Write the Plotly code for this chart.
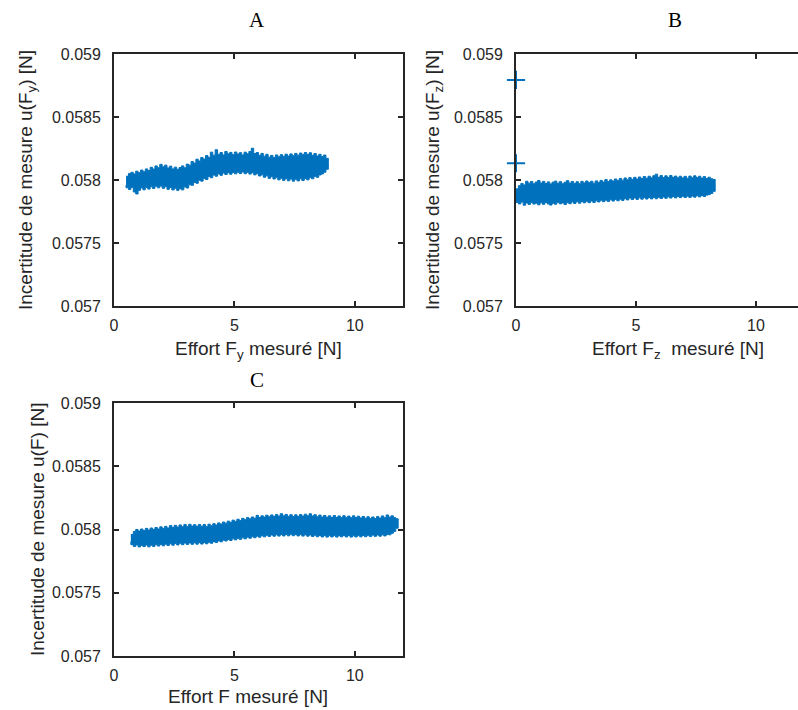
import plotly.graph_objects as go

# ---------------- data (in mN) ----------------
A_x_start, A_x_step = 0.5, 0.1
A_top_mN = [58.030, 58.052, 58.061, 58.048, 58.070, 58.058, 58.079, 58.066, 58.088, 58.075,
            58.101, 58.087, 58.112, 58.098, 58.124, 58.105, 58.118, 58.096, 58.110, 58.088,
            58.102, 58.085, 58.099, 58.112, 58.097, 58.126, 58.118, 58.146, 58.134, 58.165,
            58.151, 58.178, 58.166, 58.194, 58.180, 58.221, 58.197, 58.240, 58.204, 58.218,
            58.199, 58.226, 58.208, 58.219, 58.201, 58.222, 58.206, 58.217, 58.199, 58.221,
            58.208, 58.226, 58.252, 58.210, 58.218, 58.196, 58.211, 58.189, 58.204, 58.181,
            58.195, 58.178, 58.199, 58.184, 58.201, 58.188, 58.205, 58.190, 58.207, 58.193,
            58.211, 58.197, 58.214, 58.201, 58.218, 58.203, 58.216, 58.196, 58.210, 58.191,
            58.204, 58.186, 58.198, 58.172, 58.140]
A_bot_mN = [57.960, 57.938, 57.925, 57.941, 57.905, 57.889, 57.918, 57.937, 57.922, 57.941,
            57.928, 57.946, 57.933, 57.951, 57.938, 57.952, 57.934, 57.947, 57.926, 57.940,
            57.921, 57.935, 57.918, 57.931, 57.922, 57.945, 57.936, 57.962, 57.958, 57.981,
            57.974, 57.998, 57.991, 58.012, 58.004, 58.027, 58.018, 58.039, 58.030, 58.048,
            58.037, 58.055, 58.044, 58.058, 58.046, 58.060, 58.049, 58.062, 58.051, 58.064,
            58.050, 58.061, 58.047, 58.058, 58.041, 58.050, 58.032, 58.041, 58.022, 58.033,
            58.013, 58.026, 58.008, 58.019, 58.001, 58.014, 57.997, 58.010, 57.994, 58.008,
            57.991, 58.006, 57.993, 58.009, 57.996, 58.012, 58.001, 58.018, 58.010, 58.029,
            58.021, 58.040, 58.048, 58.062, 58.085]

B_x_start, B_x_step = 0.0, 0.1
B_top_mN = [57.930, 57.955, 57.972, 57.961, 57.990, 57.975, 57.988, 57.970, 57.984, 57.996,
            57.976, 57.989, 57.972, 57.985, 57.969, 57.983, 57.991, 57.974, 57.987, 57.970,
            57.982, 57.995, 57.976, 57.988, 57.973, 57.986, 57.971, 57.989, 57.977, 57.992,
            57.979, 57.990, 57.975, 57.993, 57.981, 57.997, 57.984, 58.003, 57.988, 58.001,
            57.992, 58.008, 57.995, 58.012, 57.999, 58.016, 58.002, 58.019, 58.005, 58.021,
            58.008, 58.024, 58.011, 58.028, 58.014, 58.030, 58.017, 58.034, 58.046, 58.022,
            58.035, 58.019, 58.033, 58.020, 58.036, 58.021, 58.031, 58.017, 58.030, 58.016,
            58.029, 58.014, 58.031, 58.018, 58.033, 58.019, 58.030, 58.015, 58.027, 58.012,
            58.022, 58.010, 58.004, 57.980]
B_bot_mN = [57.845, 57.822, 57.810, 57.825, 57.800, 57.818, 57.806, 57.821, 57.809, 57.816,
            57.803, 57.819, 57.807, 57.822, 57.810, 57.801, 57.815, 57.808, 57.823, 57.811,
            57.818, 57.806, 57.820, 57.812, 57.826, 57.814, 57.828, 57.816, 57.829, 57.819,
            57.831, 57.820, 57.833, 57.822, 57.835, 57.826, 57.839, 57.828, 57.840, 57.830,
            57.843, 57.833, 57.846, 57.835, 57.848, 57.838, 57.852, 57.842, 57.857, 57.845,
            57.858, 57.846, 57.859, 57.848, 57.860, 57.849, 57.861, 57.850, 57.862, 57.851,
            57.863, 57.853, 57.865, 57.855, 57.867, 57.857, 57.869, 57.858, 57.870, 57.860,
            57.871, 57.861, 57.872, 57.862, 57.873, 57.864, 57.875, 57.866, 57.877, 57.869,
            57.880, 57.884, 57.893, 57.910]
B_outlier_x = [0.0, 0.0]
B_outlier_mN = [58.794, 58.133]

C_x_start, C_x_step = 0.7, 0.1
C_top_mN = [57.960, 57.985, 58.000, 57.988, 58.004, 57.992, 58.009, 57.996, 58.012, 58.001,
            58.016, 58.004, 58.021, 58.009, 58.025, 58.012, 58.031, 58.017, 58.033, 58.020,
            58.036, 58.022, 58.039, 58.024, 58.041, 58.027, 58.038, 58.025, 58.040, 58.026,
            58.039, 58.024, 58.042, 58.030, 58.046, 58.036, 58.052, 58.043, 58.059, 58.050,
            58.066, 58.057, 58.074, 58.064, 58.081, 58.071, 58.088, 58.078, 58.094, 58.084,
            58.099, 58.089, 58.112, 58.095, 58.108, 58.098, 58.113, 58.101, 58.115, 58.104,
            58.118, 58.106, 58.125, 58.108, 58.119, 58.105, 58.117, 58.103, 58.116, 58.104,
            58.118, 58.106, 58.121, 58.108, 58.124, 58.107, 58.117, 58.101, 58.114, 58.099,
            58.111, 58.097, 58.108, 58.095, 58.110, 58.096, 58.107, 58.094, 58.109, 58.095,
            58.106, 58.093, 58.108, 58.094, 58.105, 58.091, 58.103, 58.089, 58.101, 58.087,
            58.099, 58.086, 58.102, 58.090, 58.107, 58.093, 58.115, 58.098, 58.108, 58.094,
            58.085, 58.058]
C_bot_mN = [57.905, 57.880, 57.866, 57.878, 57.862, 57.874, 57.865, 57.877, 57.863, 57.876,
            57.866, 57.880, 57.869, 57.882, 57.871, 57.884, 57.874, 57.887, 57.876, 57.889,
            57.878, 57.891, 57.880, 57.893, 57.882, 57.894, 57.883, 57.895, 57.884, 57.896,
            57.885, 57.897, 57.887, 57.899, 57.891, 57.904, 57.897, 57.910, 57.903, 57.916,
            57.909, 57.921, 57.913, 57.926, 57.918, 57.930, 57.922, 57.934, 57.926, 57.939,
            57.931, 57.943, 57.935, 57.947, 57.939, 57.951, 57.942, 57.954, 57.945, 57.957,
            57.947, 57.959, 57.948, 57.960, 57.949, 57.961, 57.950, 57.962, 57.951, 57.961,
            57.949, 57.960, 57.948, 57.959, 57.947, 57.957, 57.945, 57.955, 57.943, 57.953,
            57.941, 57.952, 57.940, 57.951, 57.941, 57.952, 57.940, 57.951, 57.942, 57.953,
            57.941, 57.952, 57.940, 57.950, 57.941, 57.952, 57.942, 57.953, 57.943, 57.954,
            57.944, 57.956, 57.946, 57.957, 57.947, 57.958, 57.949, 57.960, 57.958, 57.970,
            57.985, 58.010]

y_tickvals = [0.057, 0.0575, 0.058, 0.0585, 0.059]
y_ticktext = ["0.057", "0.0575", "0.058", "0.0585", "0.059"]
x_tickvals = [0, 5, 10]
x_ticktext = ["0", "5", "10"]

panel_titles = ["A", "B", "C"]
y_titles = ["Incertitude de mesure u(F<sub>y</sub>) [N]",
            "Incertitude de mesure u(F<sub>z</sub>) [N]",
            "Incertitude de mesure u(F) [N]"]
x_titles = ["Effort F<sub>y</sub> mesuré [N]",
            "Effort F<sub>z</sub>  mesuré [N]",
            "Effort F mesuré [N]"]

# ---------------- figure ----------------
W, H = 798, 710
BLUE = "#0072BD"
AX = "#262626"
FONT = "Liberation Sans, Arial, sans-serif"


def px_x(p):
    return p / W


def px_y(p):
    return 1 - p / H


def band_xy(x0, step, top, bot):
    xt = [round(x0 + i * step, 3) for i in range(len(top))]
    xb = [round(x0 + i * step, 3) for i in range(len(bot))]
    xs = xt + xb[::-1]
    ys = [v / 1000 for v in top] + [v / 1000 for v in bot[::-1]]
    return xs, ys


fig = go.Figure()

panels = [
    ("x", "y", A_x_start, A_x_step, A_top_mN, A_bot_mN),
    ("x2", "y2", B_x_start, B_x_step, B_top_mN, B_bot_mN),
    ("x3", "y3", C_x_start, C_x_step, C_top_mN, C_bot_mN),
]
for xa, ya, x0, st, top, bot in panels:
    xs, ys = band_xy(x0, st, top, bot)
    fig.add_trace(go.Scatter(x=xs, y=ys, xaxis=xa, yaxis=ya, mode="lines",
                             fill="toself", fillcolor=BLUE,
                             line=dict(color=BLUE, width=1, shape="hv"),
                             hoverinfo="skip", showlegend=False))

fig.add_trace(go.Scatter(x=B_outlier_x, y=[v / 1000 for v in B_outlier_mN],
                         xaxis="x2", yaxis="y2", mode="markers",
                         marker=dict(symbol="cross-thin", size=13,
                                     line=dict(color=BLUE, width=2)),
                         cliponaxis=False, showlegend=False))

# pixel layout of plot areas
areas = {
    "A": dict(x=(114, 403), y=(54, 306), xr=[0, 12]),
    "B": dict(x=(516, 798), y=(54, 306), xr=[0, (798 - 516) / 24]),
    "C": dict(x=(114, 403), y=(403, 656), xr=[0, 12]),
}

common_axis = dict(showline=True, linecolor=AX, linewidth=1.8, ticks="inside",
                   ticklen=5, tickwidth=1.5, tickcolor=AX, showgrid=False,
                   zeroline=False, automargin=False,
                   tickfont=dict(family=FONT, size=16, color=AX))

names = [("xaxis", "yaxis"), ("xaxis2", "yaxis2"), ("xaxis3", "yaxis3")]
anchors = [("y", "x"), ("y2", "x2"), ("y3", "x3")]
layout_axes = {}
for (xn, yn), (xanc, yanc), key in zip(names, anchors, ["A", "B", "C"]):
    a = areas[key]
    layout_axes[xn] = dict(common_axis, domain=[px_x(a["x"][0]), px_x(a["x"][1])],
                           range=a["xr"], anchor=xanc, tickvals=x_tickvals,
                           ticktext=x_ticktext, mirror="ticks",
                           ticklabelstandoff=4)
    layout_axes[yn] = dict(common_axis, domain=[px_y(a["y"][1]), px_y(a["y"][0])],
                           range=[0.057, 0.059], anchor=yanc, tickvals=y_tickvals,
                           ticktext=y_ticktext,
                           mirror=("ticks" if key != "B" else False),
                           ticklabelstandoff=8)

fig.update_layout(width=W, height=H, margin=dict(l=0, r=0, t=0, b=0, pad=0),
                  template="none",
                  plot_bgcolor="white", paper_bgcolor="white",
                  showlegend=False, **layout_axes)

# panel titles
title_pos = [(257, 20), (675, 20), (257, 380)]
for t, (px, py) in zip(panel_titles, title_pos):
    fig.add_annotation(text=t, x=px_x(px), y=px_y(py), xref="paper", yref="paper",
                       showarrow=False, xanchor="center", yanchor="middle",
                       font=dict(family="Liberation Serif, Times New Roman, serif",
                                 size=21, color="black"))

# axis titles
ytitle_pos = [(27, 180), (434, 180), (37, 530)]
for t, (px, py) in zip(y_titles, ytitle_pos):
    fig.add_annotation(text=t, x=px_x(px), y=px_y(py), xref="paper", yref="paper",
                       showarrow=False, textangle=-90, xanchor="center",
                       yanchor="middle",
                       font=dict(family=FONT, size=19, color=AX))

xtitle_pos = [(258, 350), (678, 350), (248, 696)]
for t, (px, py) in zip(x_titles, xtitle_pos):
    fig.add_annotation(text=t, x=px_x(px), y=px_y(py), xref="paper", yref="paper",
                       showarrow=False, xanchor="center", yanchor="middle",
                       font=dict(family=FONT, size=19, color=AX))

fig.write_html("out.html",
               config={"displayModeBar": False},
               post_script="document.body.style.margin='0px';"
                           "document.body.style.overflow='hidden';")
